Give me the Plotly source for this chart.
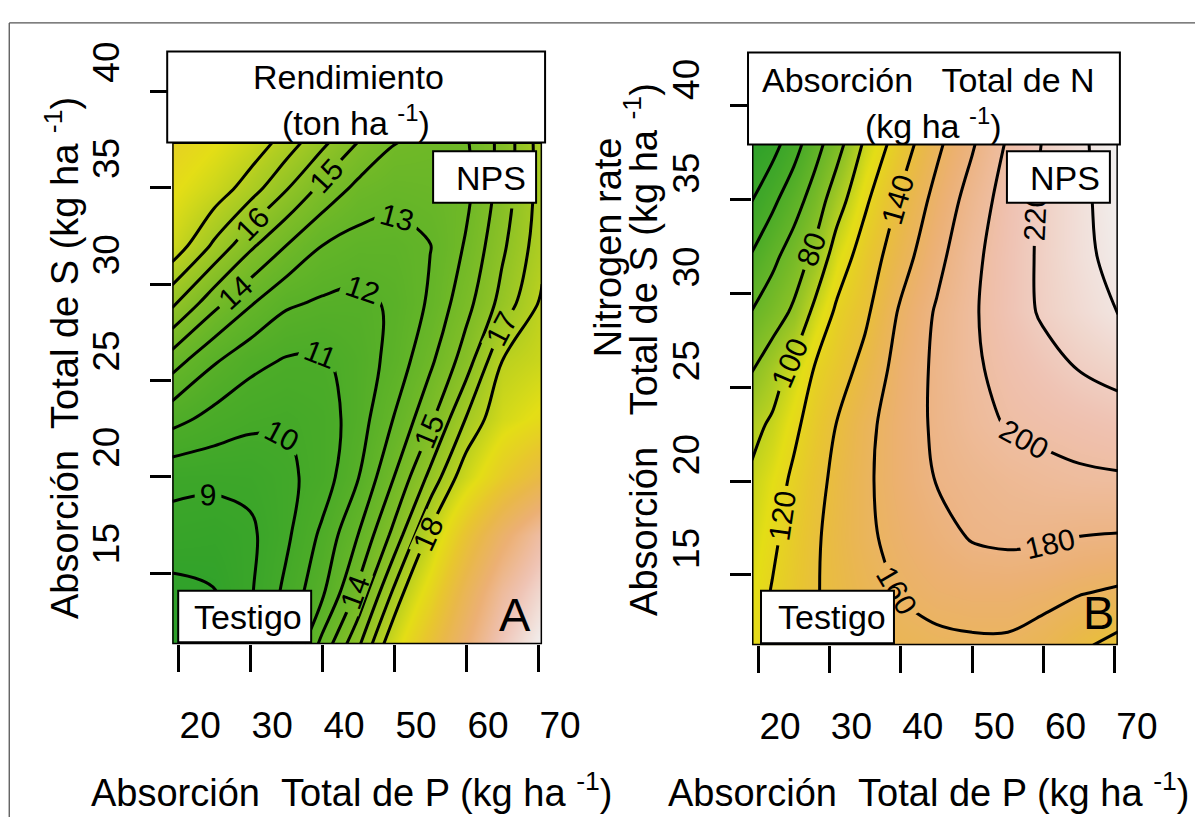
import numpy as np
import plotly.graph_objects as go

# Page geometry: body margin of 8px; the captured page is ~1242px wide and is
# resized to 1203px horizontally, so horizontal positions are divided by SX.
OFF = 8
SX = 0.9685
PAGE_W = 1242
W, H = PAGE_W - 2 * OFF, 817 - OFF
FONT = "Liberation Sans, Arial, sans-serif"

# ---------------- data: panel A (Rendimiento, ton/ha) ----------------
p_a = [19.17, 25, 30, 35, 40, 45, 50, 55, 60, 65, 70.56]
s_a = [11.31, 14, 17, 20, 23, 26, 29, 32, 35, 37.6]
yield_a = [
    [7.3, 7.8, 8.9, 10.65, 13.3, 15.8, 18.9, 22.0, 25.5, 29.0, 31.7],
    [7.7, 7.95, 8.88, 10.24, 11.8, 14.2, 17.2, 20.2, 24.0, 27.5, 30.2],
    [8.6, 8.45, 8.8, 9.8, 11.2, 13.0, 15.3, 18.2, 21.8, 25.0, 28.0],
    [9.3, 9.25, 9.3, 9.75, 10.45, 11.95, 14.0, 16.25, 18.7, 21.0, 23.0],
    [11.35, 10.65, 10.25, 10.1, 10.45, 11.5, 13.05, 14.76, 17.05, 18.9, 19.8],
    [13.45, 12.1, 11.3, 10.9, 10.85, 11.45, 12.35, 13.8, 15.5, 18.0, 18.6],
    [16.2, 14.3, 13.1, 12.15, 11.85, 11.75, 12.15, 13.15, 14.65, 16.35, 18.2],
    [18.7, 16.8, 15.2, 14.0, 13.0, 12.6, 12.55, 12.97, 14.1, 15.8, 17.6],
    [19.7, 18.65, 17.5, 16.1, 14.75, 13.75, 13.4, 13.5, 13.75, 15.4, 17.45],
    [20.6, 19.7, 18.8, 17.7, 16.4, 15.1, 14.1, 13.85, 13.9, 15.3, 17.5],
]

# ---------------- data: panel B (Absorcion total de N, kg/ha) ----------------
p_b = [19.16, 22, 25, 28, 31, 35, 40, 45, 50, 55, 60, 65, 70.42]
s_b = [11.26, 14, 17, 20, 23, 26, 29, 32, 35, 38]
nup_b = [
    [114, 121.7, 130.1, 138.6, 143.5, 149, 153.5, 156.3, 157.5, 157.5, 152.5, 143.4, 134],
    [111, 121.2, 130, 138.8, 144.5, 152.3, 161, 165.5, 167.5, 167.5, 165, 160.6, 157],
    [107, 116.5, 127.5, 137.6, 146.1, 156.6, 165.8, 173.7, 181.2, 183.5, 182.5, 179.6, 178.5],
    [103, 111.8, 123.3, 134.2, 144.4, 156.9, 169.3, 180.5, 186, 190.5, 194, 196.5, 197.5],
    [95, 102.7, 116, 128.4, 140.4, 154.9, 170.1, 183.1, 193.5, 201.2, 204.4, 207.6, 211],
    [79, 90.7, 105.1, 121.3, 130.8, 146, 167.9, 183.5, 197, 205.8, 213.3, 220.6, 226],
    [60.7, 70.7, 83, 105, 123, 136.3, 162.7, 181.9, 197.5, 210.8, 222.5, 231.2, 240.5],
    [41.5, 55.1, 68.9, 84.8, 109, 128.8, 151.7, 174, 195.2, 210.5, 223.4, 234.9, 246],
    [19.5, 35.4, 51.6, 68.5, 91, 116.8, 142.4, 165.6, 188.2, 208.8, 223, 235.5, 249],
    [4, 12, 31.7, 52.5, 71.6, 103.1, 130, 155.7, 177.8, 202.3, 221.2, 235.9, 252],
]

x_ticks = [20, 30, 40, 50, 60, 70]
y_ticks = [15, 20, 25, 30, 35, 40]

# ---------------- colours (terrain-like) ----------------
STOPS = [(0.0, (44, 160, 42)), (0.15, (76, 172, 40)), (0.25, (104, 182, 40)),
         (0.34, (136, 192, 38)), (0.42, (175, 205, 34)), (0.5, (228, 222, 22)),
         (0.58, (232, 198, 48)), (0.65, (233, 184, 74)), (0.75, (236, 176, 116)),
         (0.87, (239, 194, 178)), (1.0, (242, 242, 242))]


def col(f):
    f = min(max(float(f), 0.0), 1.0)
    for (f0, c0), (f1, c1) in zip(STOPS[:-1], STOPS[1:]):
        if f <= f1:
            t = (f - f0) / (f1 - f0)
            return "rgb(%d,%d,%d)" % tuple(round(a + (b - a) * t) for a, b in zip(c0, c1))
    return "rgb(242,242,242)"


ZMIN_A, ZMAX_A = 7.3, 31.7
cs_a = [[float(f), col(f)] for f in np.linspace(0, 1, 41)]

ZMIN_B, ZMAX_B = 0.0, 252.0
zb_stops = [0, 40, 70, 112, 130, 170, 210, 252]
fb_stops = [0.0, 0.15, 0.3, 0.5, 0.575, 0.75, 0.87, 1.0]
cs_b = [[float((z - ZMIN_B) / (ZMAX_B - ZMIN_B)), col(np.interp(z, zb_stops, fb_stops))]
        for z in np.linspace(ZMIN_B, ZMAX_B, 64)]

fig = go.Figure()

fig.add_trace(go.Contour(
    x=p_a, y=s_a, z=yield_a, xaxis="x", yaxis="y",
    colorscale=cs_a, zauto=False, zmin=ZMIN_A, zmax=ZMAX_A, showscale=False,
    contours=dict(coloring="heatmap", start=8, end=18, size=1, showlabels=True,
                  labelfont=dict(family=FONT, size=30, color="black")),
    line=dict(color="black", width=3, smoothing=1), hoverinfo="skip"))

fig.add_trace(go.Contour(
    x=p_b, y=s_b, z=nup_b, xaxis="x2", yaxis="y2",
    colorscale=cs_b, zauto=False, zmin=ZMIN_B, zmax=ZMAX_B, showscale=False,
    contours=dict(coloring="heatmap", start=20, end=240, size=20, showlabels=True,
                  labelfont=dict(family=FONT, size=30, color="black")),
    line=dict(color="black", width=3, smoothing=1), hoverinfo="skip"))


def X(px):
    """target picture pixel -> paper x"""
    return (px / SX - OFF) / W


def Y(py):
    """target picture pixel -> paper y"""
    return 1 - (py - OFF) / H


tickfont = dict(family=FONT, size=37, color="black")
xcommon = dict(tickvals=x_ticks, ticks="outside", ticklen=27, tickwidth=3, tickcolor="black",
               showgrid=False, zeroline=False, showline=False, tickfont=tickfont,
               ticklabelshift=22, ticklabelstandoff=21, fixedrange=True)
ycommon = dict(tickvals=y_ticks, ticks="outside", ticklen=21, tickwidth=3, tickcolor="black",
               showgrid=False, zeroline=False, showline=False, tickfont=tickfont,
               tickangle=-90, ticklabelstandoff=16, fixedrange=True)

fig.update_layout(
    width=W, height=H, margin=dict(l=0, r=0, t=0, b=0),
    paper_bgcolor="white", plot_bgcolor="white", showlegend=False,
    font=dict(family=FONT, color="black"),
    xaxis=dict(domain=[X(172), X(542)], range=[19.17, 70.56], anchor="y", **xcommon),
    yaxis=dict(domain=[Y(642), Y(42)], range=[11.31, 42.08], anchor="x",
               ticklabelshift=-24, **ycommon),
    xaxis2=dict(domain=[X(752), X(1118)], range=[19.16, 70.42], anchor="y2", **xcommon),
    yaxis2=dict(domain=[Y(643), Y(43)], range=[11.26, 42.84], anchor="x2",
                ticklabelshift=-21, **ycommon),
)

shapes = []
# outer frame (top and left edges, kept inside the figure)
frame = dict(color="#555555", width=1.3)
shapes.append(dict(type="line", xref="paper", yref="paper", x0=X(9), x1=1, y0=Y(13), y1=Y(13), line=frame))
shapes.append(dict(type="line", xref="paper", yref="paper", x0=X(9), x1=X(9), y0=0, y1=Y(13), line=frame))
# plot frames around heatmaps
shapes.append(dict(type="rect", xref="x", yref="y", x0=19.17, x1=70.56, y0=11.31, y1=37.36,
                   line=dict(color="black", width=3), layer="above"))
shapes.append(dict(type="rect", xref="x2", yref="y2", x0=19.16, x1=70.42, y0=11.26, y1=38.0,
                   line=dict(color="black", width=3), layer="above"))


def box(x0, y0, x1, y1, lw=2):
    shapes.append(dict(type="rect", xref="paper", yref="paper", x0=X(x0), x1=X(x1), y0=Y(y1), y1=Y(y0),
                       line=dict(color="black", width=lw), fillcolor="white", layer="above"))


box(167, 42, 545, 134)      # title box A
box(748, 43, 1120, 136)     # title box B
box(433, 143, 536, 195)     # NPS A
box(1007, 143, 1110, 195)   # NPS B
box(178, 588, 311, 640)     # Testigo A
box(761, 588, 894, 641)     # Testigo B
fig.update_layout(shapes=shapes)

NB = "\u00a0"
ann = []


def text(px, py, s, size=34, angle=0):
    ann.append(dict(x=X(px), y=Y(py), xref="paper", yref="paper", text=s, showarrow=False,
                    xanchor="center", yanchor="middle", textangle=angle,
                    font=dict(family=FONT, size=size, color="black")))


text(348, 68, "Rendimiento")
text(356, 112, "(ton ha <sup>-1</sup>)")
text(929, 71, "Absorción" + NB * 3 + "Total de N")
text(933, 115, "(kg ha <sup>-1</sup>)")
text(491, 170, "NPS")
text(1065, 170, "NPS")
text(248, 615, "Testigo")
text(832, 615, "Testigo")
text(515, 612, "A", size=47)
text(1099, 610, "B", size=47)
text(351, 790, "Absorción" + NB * 2 + "Total de P (kg ha <sup>-1</sup>)", size=38)
text(929, 790, "Absorción" + NB * 2 + "Total de P (kg ha <sup>-1</sup>)", size=38)
text(62, 352, "Absorción" + NB * 2 + "Total de S (kg ha <sup>-1</sup>)", size=38, angle=-90)
text(608, 240, "Nitrogen rate", size=38, angle=-90)
text(641, 344, "Absorción" + NB * 3 + "Total de S (kg ha <sup>-1</sup>)", size=38, angle=-90)
fig.update_layout(annotations=ann)

fig.write_html("out.html")
